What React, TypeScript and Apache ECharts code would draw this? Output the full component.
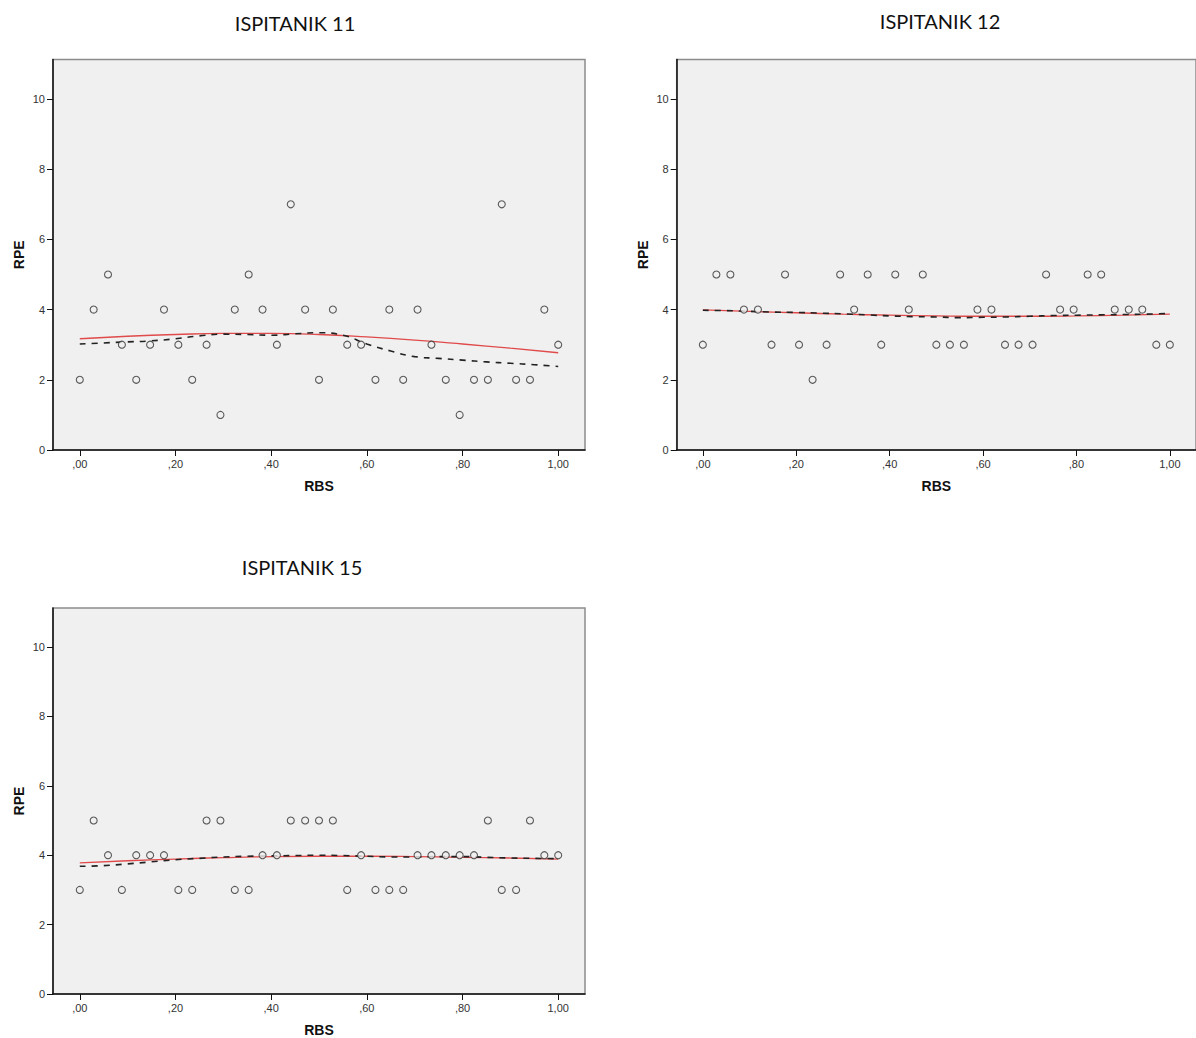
import React, { useEffect, useRef } from "react";
import * as echarts from "echarts";

// ---- data ----
const titles = ["ISPITANIK 11", "ISPITANIK 12", "ISPITANIK 15"];
const xTickValues = [0, 0.2, 0.4, 0.6, 0.8, 1.0];
const xTickLabels = [",00", ",20", ",40", ",60", ",80", "1,00"];
const yTickValues = [0, 2, 4, 6, 8, 10];
const yTickLabels = ["0", "2", "4", "6", "8", "10"];

const rbs = [
  0.0, 0.029, 0.059, 0.088, 0.118, 0.147, 0.176, 0.206, 0.235, 0.265, 0.294, 0.324,
  0.353, 0.382, 0.412, 0.441, 0.471, 0.5, 0.529, 0.559, 0.588, 0.618, 0.647, 0.676,
  0.706, 0.735, 0.765, 0.794, 0.824, 0.853, 0.882, 0.912, 0.941, 0.971, 1.0,
];
const rpe11 = [2, 4, 5, 3, 2, 3, 4, 3, 2, 3, 1, 4, 5, 4, 3, 7, 4, 2, 4, 3, 3, 2, 4, 2, 4, 3, 2, 1, 2, 2, 7, 2, 2, 4, 3];
const rpe12 = [3, 5, 5, 4, 4, 3, 5, 3, 2, 3, 5, 4, 5, 3, 5, 4, 5, 3, 3, 3, 4, 4, 3, 3, 3, 5, 4, 4, 5, 5, 4, 4, 4, 3, 3];
const rpe15 = [3, 5, 4, 3, 4, 4, 4, 3, 3, 5, 5, 3, 3, 4, 4, 5, 5, 5, 5, 3, 4, 3, 3, 3, 4, 4, 4, 4, 4, 5, 3, 3, 5, 4, 4];

// fit line (red) sampled positions
const fitX = [0, 0.1, 0.2, 0.3, 0.4, 0.5, 0.6, 0.7, 0.8, 0.9, 1.0];
const fit11 = [3.17, 3.24, 3.29, 3.32, 3.32, 3.29, 3.22, 3.13, 3.02, 2.9, 2.77];
const fit12 = [3.99, 3.95, 3.91, 3.87, 3.84, 3.82, 3.81, 3.81, 3.82, 3.84, 3.87];
const fit15 = [3.78, 3.84, 3.89, 3.93, 3.96, 3.97, 3.97, 3.96, 3.94, 3.92, 3.89];

// loess line (dashed) sampled positions
const loessX = [0, 0.05, 0.1, 0.15, 0.2, 0.25, 0.3, 0.35, 0.4, 0.45, 0.5, 0.55, 0.6, 0.65, 0.7, 0.75, 0.8, 0.85, 0.9, 0.95, 1.0];
const loess11 = [3.02, 3.05, 3.08, 3.11, 3.17, 3.25, 3.3, 3.29, 3.27, 3.31, 3.34, 3.27, 3.02, 2.82, 2.66, 2.61, 2.56, 2.51, 2.47, 2.43, 2.38];
const loess12 = [3.98, 3.97, 3.95, 3.93, 3.92, 3.9, 3.88, 3.85, 3.82, 3.8, 3.79, 3.77, 3.78, 3.79, 3.81, 3.83, 3.84, 3.85, 3.86, 3.87, 3.89];
const loess15 = [3.68, 3.7, 3.75, 3.81, 3.87, 3.91, 3.95, 3.97, 3.98, 3.99, 4.0, 3.99, 3.97, 3.95, 3.95, 3.96, 3.96, 3.94, 3.92, 3.91, 3.9];

const X_MIN = -0.056;
const X_MAX = 1.056;
const Y_MIN = 0;
const Y_MAX = 11.125;

const panels = [
  { title: titles[0], rpe: rpe11, fit: fit11, loess: loess11, left: 53, top: 59.5, tx: 295, ty: 22.5 },
  { title: titles[1], rpe: rpe12, fit: fit12, loess: loess12, left: 676.7, top: 59.5, tx: 940, ty: 21 },
  { title: titles[2], rpe: rpe15, fit: fit15, loess: loess15, left: 53, top: 608, tx: 302, ty: 566.5 },
];

const labelFont = "'Liberation Sans', Arial, sans-serif";

export default function App() {
  const ref = useRef<HTMLDivElement>(null);

  useEffect(() => {
    if (!ref.current) return;
    const chart = echarts.init(ref.current, undefined, { renderer: "svg" });

    const grids: any[] = [];
    const xAxes: any[] = [];
    const yAxes: any[] = [];
    const series: any[] = [];
    const graphics: any[] = [];

    panels.forEach((p, i) => {
      grids.push({
        left: p.left,
        top: p.top,
        width: 532,
        height: 390.5,
        show: true,
        backgroundColor: "#f0f0f0",
        borderColor: "#8c8c8c",
        borderWidth: 1.5,
        containLabel: false,
      });
      xAxes.push({
        type: "value",
        gridIndex: i,
        min: X_MIN,
        max: X_MAX,
        name: "RBS",
        nameLocation: "middle",
        nameGap: 29,
        nameTextStyle: { fontFamily: labelFont, fontSize: 14, fontWeight: "bold", color: "#111" },
        axisLine: { show: true, onZero: false, lineStyle: { color: "#111", width: 1.5 } },
        axisTick: {
          show: true,
          length: 6,
          inside: false,
          lineStyle: { color: "#111", width: 1 },
          customValues: xTickValues,
        },
        axisLabel: {
          margin: 8,
          fontFamily: labelFont,
          fontSize: 11,
          color: "#333",
          customValues: xTickValues,
          formatter: (v: number) => {
            const idx = xTickValues.findIndex((t) => Math.abs(t - v) < 1e-6);
            return idx >= 0 ? xTickLabels[idx] : "";
          },
        },
        splitLine: { show: false },
      });
      yAxes.push({
        type: "value",
        gridIndex: i,
        min: Y_MIN,
        max: Y_MAX,
        name: "RPE",
        nameLocation: "middle",
        nameGap: 27,
        nameRotate: 90,
        nameTextStyle: { fontFamily: labelFont, fontSize: 14, fontWeight: "bold", color: "#111" },
        axisLine: { show: true, onZero: false, lineStyle: { color: "#111", width: 1.5 } },
        axisTick: {
          show: true,
          length: 6,
          inside: false,
          lineStyle: { color: "#111", width: 1 },
          customValues: yTickValues,
        },
        axisLabel: {
          margin: 8,
          fontFamily: labelFont,
          fontSize: 11,
          color: "#333",
          customValues: yTickValues,
          formatter: (v: number) => {
            const idx = yTickValues.findIndex((t) => Math.abs(t - v) < 1e-6);
            return idx >= 0 ? yTickLabels[idx] : "";
          },
        },
        splitLine: { show: false },
      });
      series.push({
        type: "line",
        xAxisIndex: i,
        yAxisIndex: i,
        data: fitX.map((x, k) => [x, p.fit[k]]),
        smooth: true,
        symbol: "none",
        lineStyle: { color: "#e04a4a", width: 1.3 },
        z: 2,
      });
      series.push({
        type: "line",
        xAxisIndex: i,
        yAxisIndex: i,
        data: loessX.map((x, k) => [x, p.loess[k]]),
        smooth: true,
        symbol: "none",
        lineStyle: { color: "#222", width: 1.6, type: [6, 6] },
        z: 3,
      });
      series.push({
        type: "scatter",
        xAxisIndex: i,
        yAxisIndex: i,
        data: rbs.map((x, k) => [x, p.rpe[k]]),
        symbol: "circle",
        symbolSize: 7,
        itemStyle: { color: "#f0f0f0", borderColor: "#333", borderWidth: 1.1 },
        z: 4,
      });
      graphics.push({
        type: "text",
        x: p.tx,
        y: p.ty,
        style: {
          text: p.title,
          align: "center",
          verticalAlign: "middle",
          fontFamily: "Lato, 'Open Sans', sans-serif",
          fontSize: 20,
          fill: "#111",
        },
      });
    });

    chart.setOption({
      animation: false,
      backgroundColor: "#ffffff",
      grid: grids,
      xAxis: xAxes,
      yAxis: yAxes,
      series,
      graphic: graphics,
    });

    return () => chart.dispose();
  }, []);

  return (
    <div
      ref={ref}
      style={{ position: "absolute", left: 0, top: 0, width: 1196, height: 1038, background: "#fff" }}
    />
  );
}
